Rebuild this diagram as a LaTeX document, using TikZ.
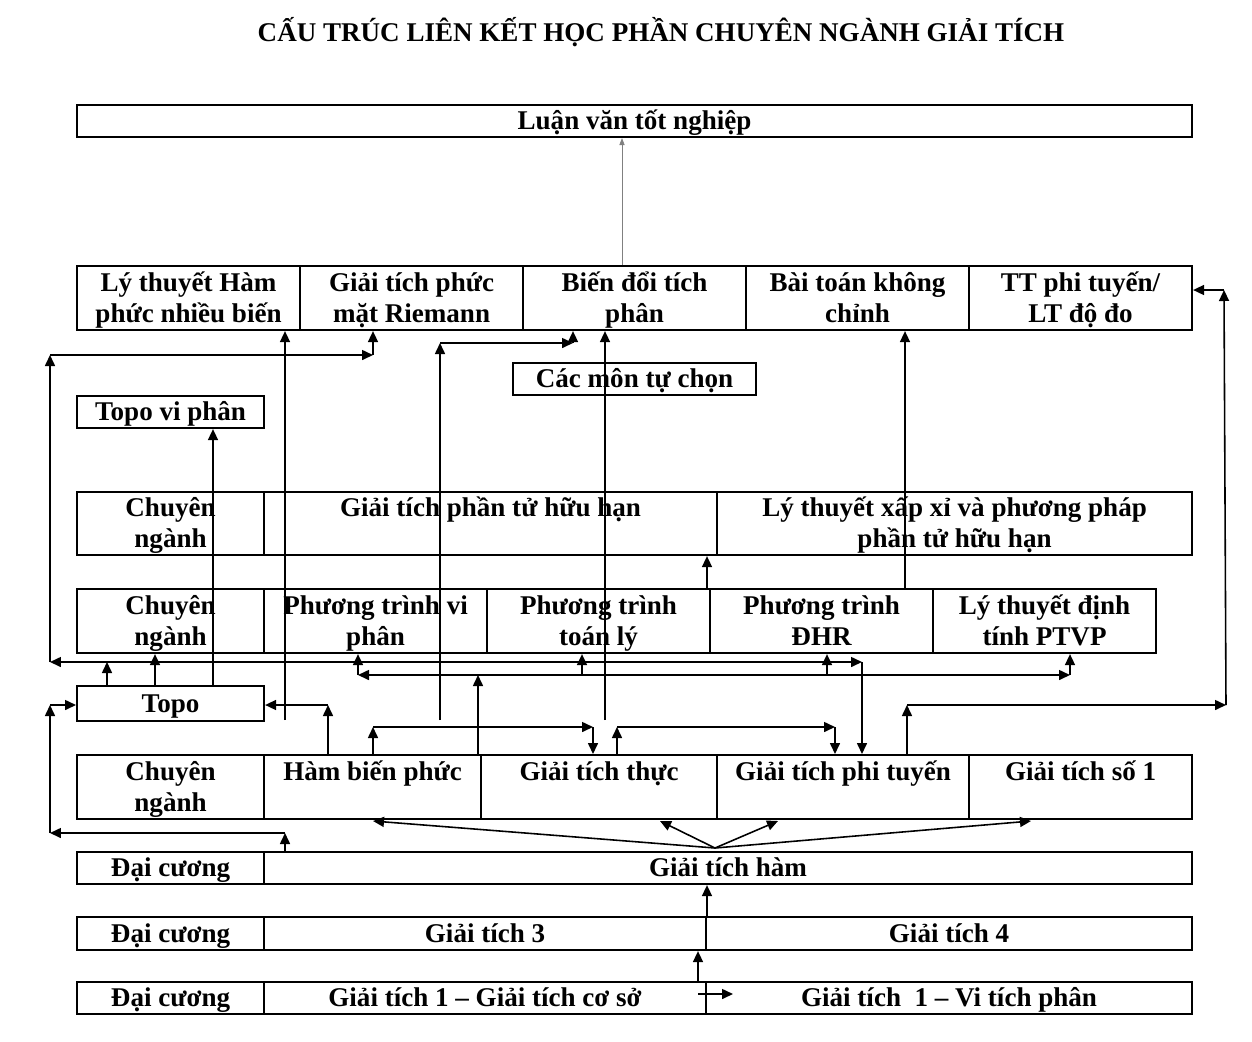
\documentclass[tikz,border=0pt]{standalone}
\usepackage{fontspec}
\setmainfont{Liberation Serif}
\usetikzlibrary{arrows.meta}

\newcommand{\cellstrut}{\lineskiplimit=-100pt\relax\rule{0pt}{1.1em}}
\newcommand{\cellfoot}{\rule[-0.45em]{0pt}{0pt}}

\begin{document}
\begin{tikzpicture}[x=0.02cm,y=-0.02cm,
  cell/.style 2 args={draw,line width=1.2pt,anchor=north west,inner xsep=0pt,inner ysep=-4pt,
    minimum width=#1*0.02cm,minimum height=#2*0.02cm,text width=#1*0.02cm-4pt,align=flush center,
    font=\bfseries\fontsize{15.4}{17.6}\selectfont,
    execute at begin node=\cellstrut,execute at end node=\cellfoot},
  arr/.style={line width=0.9pt,-{Triangle[length=0.22cm,width=0.2cm]}}]

\useasboundingbox (0,0) rectangle (1252,1042);

% Title
\node[font=\bfseries\fontsize{15.4}{17.6}\selectfont] (title) at (661,32)
  {CẤU TRÚC LIÊN KẾT HỌC PHẦN CHUYÊN NGÀNH GIẢI TÍCH};

% Thesis
\node[cell={1115}{32}] (lv) at (76,104) {Luận văn tốt nghiệp};

% Electives
\node[cell={223}{64}] (r1a) at (76,265) {Lý thuyết Hàm\\phức nhiều biến};
\node[cell={223}{64}] (r1b) at (299,265) {Giải tích phức\\mặt Riemann};
\node[cell={223}{64}] (r1c) at (522,265) {Biến đổi tích\\phân};
\node[cell={223}{64}] (r1d) at (745,265) {Bài toán không\\chỉnh};
\node[cell={223}{64}] (r1e) at (968,265) {TT phi tuyến/\\LT độ đo};
\node[cell={243}{32}] (tc) at (512,362) {Các môn tự chọn};
\node[cell={187}{32}] (tvp) at (76,395) {Topo vi phân};

% Second row of majors
\node[cell={187}{63}] (r2a) at (76,491) {Chuyên\\ngành};
\node[cell={453}{63}] (r2b) at (263,491) {Giải tích phần tử hữu hạn\\\mbox{}};
\node[cell={475}{63}] (r2c) at (716,491) {Lý thuyết xấp xỉ và phương pháp\\phần tử hữu hạn};

% Equations row
\node[cell={187}{64}] (r3a) at (76,588) {Chuyên\\ngành};
\node[cell={223}{64}] (r3b) at (263,588) {Phương trình vi\\phân};
\node[cell={223}{64}] (r3c) at (486,588) {Phương trình\\toán lý};
\node[cell={223}{64}] (r3d) at (709,588) {Phương trình\\ĐHR};
\node[cell={223}{64}] (r3e) at (932,588) {Lý thuyết định\\tính PTVP};

% Topo
\node[cell={187}{35}] (topo) at (76,685) {Topo};

% First row of majors
\node[cell={187}{64}] (r4a) at (76,754) {Chuyên\\ngành};
\node[cell={217}{64}] (r4b) at (263,754) {Hàm biến phức\\\mbox{}};
\node[cell={236}{64}] (r4c) at (480,754) {Giải tích thực\\\mbox{}};
\node[cell={252}{64}] (r4d) at (716,754) {Giải tích phi tuyến\\\mbox{}};
\node[cell={223}{64}] (r4e) at (968,754) {Giải tích số 1\\\mbox{}};

% General courses
\node[cell={187}{32}] (r5a) at (76,851) {Đại cương};
\node[cell={928}{32}] (r5b) at (263,851) {Giải tích hàm};
\node[cell={187}{33}] (r6a) at (76,916) {Đại cương};
\node[cell={442}{33}] (r6b) at (263,916) {Giải tích 3};
\node[cell={486}{33}] (r6c) at (705,916) {Giải tích 4};
\node[cell={187}{32}] (r7a) at (76,981) {Đại cương};
\node[cell={442}{32}] (r7b) at (263,981) {Giải tích 1 -- Giải tích cơ sở};
\node[cell={486}{32}] (r7c) at (705,981) {Giải tích\ \ 1 -- Vi tích phân};

% Link to thesis
\coordinate (lvx) at (622,0);
\draw[gray,line width=0.4pt,-{Triangle[length=4pt,width=3pt]}] (lvx |- r1c.north) -- (lvx |- lv.south);

% Free line up to several complex variables
\coordinate (ha) at (285,720);
\draw[arr] (ha) -- (ha |- r1a.south);

% Topo to Riemann surfaces and nonlinear analysis
\coordinate (t1) at (107,662);
\coordinate (t2) at (50,662);
\coordinate (t3) at (50,355);
\coordinate (t4) at (373,355);
\coordinate (t5) at (862,662);
\draw[arr] (t1 |- topo.north) -- (t1);
\draw[arr] (t1) -- (t2);
\draw[arr] (t2) -- (t3);
\draw[arr] (t3) -- (t4);
\draw[arr] (t4) -- (t4 |- r1b.south);
\draw[arr] (t1) -- (t5);
\draw[arr] (t5) -- (t5 |- r4d.north);

% Topo up
\coordinate (t6) at (155,0);
\coordinate (t7) at (213,0);
\draw[arr] (t6 |- topo.north) -- (t6 |- r3a.south);
\draw[arr] (t7 |- topo.north) -- (t7 |- tvp.south);

% Free line up to integral transforms
\coordinate (b1) at (440,720);
\coordinate (b2) at (440,343);
\coordinate (b3) at (573,343);
\draw[arr] (b1) -- (b2);
\draw[arr] (b2) -- (b3);
\draw[arr] (b3) -- (b3 |- r1c.south);
\coordinate (b4) at (605,720);
\draw[arr] (b4) -- (b4 |- r1c.south);

% Real analysis to equations
\coordinate (g1) at (478,675);
\coordinate (g2) at (358,675);
\coordinate (g3) at (1070,675);
\draw[arr] (g1 |- r4c.north) -- (g1);
\draw[arr] (g1) -- (g2);
\draw[arr] (g2) -- (g2 |- r3b.south);
\draw[arr] (g1) -- (g3);
\draw[arr] (g3) -- (g3 |- r3e.south);
\draw[arr] (582,675) -- (582,0 |- r3c.south);
\draw[arr] (827,675) -- (827,0 |- r3d.south);

% Complex functions to Topo and real analysis
\coordinate (h1) at (328,705);
\draw[arr] (h1 |- r4b.north) -- (h1);
\draw[arr] (h1) -- (topo.east |- h1);
\coordinate (h2) at (373,727);
\coordinate (h3) at (593,727);
\draw[arr] (h2 |- r4b.north) -- (h2);
\draw[arr] (h2) -- (h3);
\draw[arr] (h3) -- (h3 |- r4c.north);

% Real analysis to nonlinear analysis
\coordinate (k1) at (617,727);
\coordinate (k2) at (835,727);
\draw[arr] (k1 |- r4c.north) -- (k1);
\draw[arr] (k1) -- (k2);
\draw[arr] (k2) -- (k2 |- r4d.north);

% Nonlinear analysis to TT phi tuyen
\coordinate (n1) at (907,705);
\coordinate (n2) at (1226,705);
\coordinate (n3) at (1224,290);
\draw[arr] (n1 |- r4d.north) -- (n1);
\draw[arr] (n1) -- (n2);
\draw[arr] (n2) -- (n3);
\draw[arr] (n3) -- (r1e.east |- n3);

% Equations upward
\coordinate (e1) at (905,0);
\draw[arr] (e1 |- r3d.north) -- (e1 |- r1d.south);
\coordinate (e2) at (707,0);
\draw[arr] (e2 |- r3c.north) -- (e2 |- r2b.south);

% Functional analysis fan
\coordinate (hub) at (715,848);
\foreach \xx in {373,660,778,1031}
  \draw[arr] (hub) -- (\xx,821);

% General courses to Topo
\coordinate (d1) at (285,833);
\coordinate (d2) at (50,833);
\coordinate (d3) at (50,705);
\draw[arr] (d1 |- r5b.north) -- (d1);
\draw[arr] (d1) -- (d2);
\draw[arr] (d2) -- (d3);
\draw[arr] (d3) -- (topo.west |- d3);

% Bottom links
\coordinate (c1) at (707,0);
\draw[arr] (c1 |- r6b.north) -- (c1 |- r5b.south);
\coordinate (c2) at (698,0);
\draw[arr] (c2 |- r7b.north) -- (c2 |- r6b.south);
\draw[arr] (698,994) -- (733,994);

\end{tikzpicture}
\end{document}
